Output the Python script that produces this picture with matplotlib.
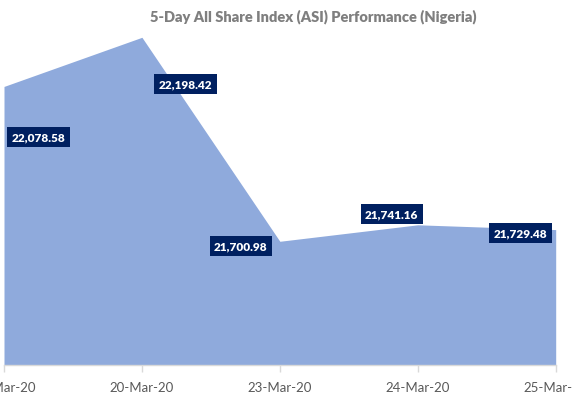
import matplotlib
matplotlib.use("Agg")
import matplotlib.pyplot as plt

# ---- data ----
dates = ['19-Mar-20', '20-Mar-20', '23-Mar-20', '24-Mar-20', '25-Mar-20']
values = [22078.58, 22198.42, 21700.98, 21741.16, 21729.48]
title = '5-Day All Share Index (ASI) Performance (Nigeria)'

W, H = 572, 402
fig = plt.figure(figsize=(W / 100, H / 100), dpi=100)
plt.rcParams['font.family'] = ['Lato', 'DejaVu Sans']

# axes in pixel geometry
left, right, top, bottom = 4.0, 555.7, 37.65, 365.7
ax = fig.add_axes([left / W, 1 - bottom / H, (right - left) / W, (bottom - top) / H])
ax.set_xlim(0, len(dates) - 1)
ax.set_ylim(21400, 22200)
x = list(range(len(dates)))
ax.fill_between(x, values, 21400, color='#8FAADC', linewidth=0)

for s in ['top', 'left', 'right']:
    ax.spines[s].set_visible(False)
ax.spines['bottom'].set_color('#D9D9D9')
ax.spines['bottom'].set_linewidth(1.0)
ax.set_yticks([])
ax.set_xticks(x)
ax.set_xticklabels(dates, fontsize=9.5, color='#595959')
ax.tick_params(axis='x', length=5, width=1, color='#D9D9D9', pad=7)
for lbl in ax.get_xticklabels():
    lbl.set_clip_on(False)

offsets = [(34.7, -50.3), (43.3, -47.0), (-39.0, -5.1), (-26.0, 10.4), (-35.4, -3.3)]
for xi, v, off in zip(x, values, offsets):
    ax.annotate(f'{v:,.2f}', (xi, v), xytext=off, textcoords='offset pixels',
                ha='center', va='center', fontsize=8.5, fontweight='heavy', color='white',
                bbox=dict(boxstyle='square,pad=0.38', fc='#002060', ec='none'),
                annotation_clip=False)

fig.text(313.7 / W, 1 - 16.5 / H, title, ha='center', va='center',
         fontsize=10.5, fontweight='heavy', color='#7F7F7F')

fig.savefig('out.png', dpi=100)
